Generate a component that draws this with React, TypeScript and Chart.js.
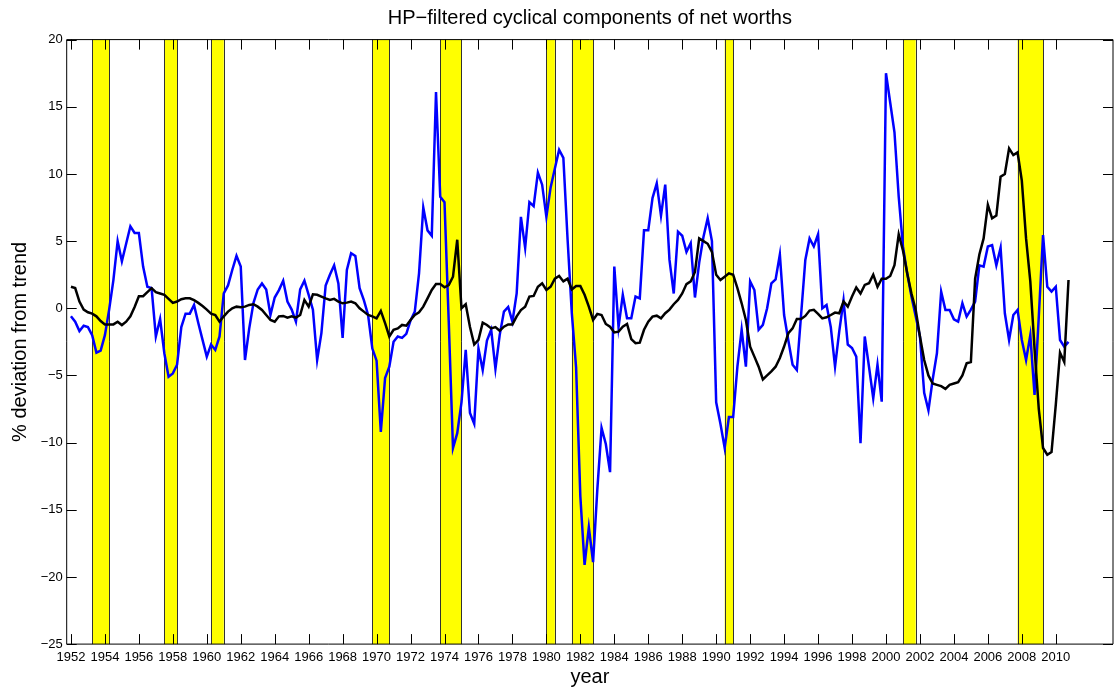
import React, { useEffect, useRef } from 'react';
import { Chart, registerables } from 'chart.js';

Chart.register(...registerables);

// quarterly observations, first quarter of 1952 through last quarter of 2010
const startYear = 1952;

const blueSeries = [
  -0.6, -1.0, -1.7, -1.3,
  -1.4, -2.0, -3.3, -3.15,
  -2.0, -0.1, 2.1, 5.0,
  3.5, 4.8, 6.1, 5.6,
  5.6, 3.1, 1.6, 1.5,
  -2.1, -0.8, -3.35, -5.1,
  -4.85, -4.2, -1.4, -0.4,
  -0.4, 0.25, -1.1, -2.35,
  -3.6, -2.7, -3.1, -2.1,
  1.1, 1.7, 2.85, 3.9,
  3.1, -3.85, -1.5, 0.4,
  1.4, 1.85, 1.4, -0.5,
  0.8, 1.35, 2.05, 0.5,
  -0.1, -1.0, 1.4, 2.05,
  1.0, -0.1, -3.85, -1.85,
  1.7, 2.5, 3.2, 1.85,
  -2.2, 2.85, 4.1, 3.9,
  1.5, 0.6, -0.5, -3.0,
  -3.9, -9.2, -5.2, -4.35,
  -2.5, -2.1, -2.2, -1.9,
  -0.9, -0.25, 2.6, 7.5,
  5.8, 5.4, 16.1, 8.3,
  7.9, -1.0, -10.4, -9.3,
  -7.0, -3.1, -7.8, -8.6,
  -3.0, -4.6, -2.4, -1.6,
  -4.5, -2.0, -0.25, 0.1,
  -1.0, 1.1, 6.8, 4.5,
  7.9, 7.6, 10.1, 9.2,
  6.8, 9.0, 10.4, 11.8,
  11.2, 5.1, -0.4, -4.4,
  -14.0, -19.1, -16.3, -18.9,
  -13.5, -8.9, -10.1, -12.2,
  3.1, -1.4, 1.0, -0.75,
  -0.75, 0.87, 0.74, 5.8,
  5.8, 8.2, 9.3, 6.9,
  9.2, 3.6, 1.1, 5.7,
  5.4, 4.2, 4.85, 0.8,
  3.4, 5.3, 6.7, 5.0,
  -7.0, -8.6, -10.4, -8.1,
  -8.1, -4.35, -1.6, -4.35,
  2.0, 1.36, -1.6, -1.24,
  0.0, 1.86, 2.15, 4.0,
  -0.5, -2.4, -4.2, -4.6,
  -0.5, 3.6, 5.2, 4.6,
  5.5, 0.0, 0.25, -1.4,
  -4.35, -1.7, 0.6, -2.7,
  -2.96, -3.6, -10.05, -2.1,
  -4.35, -6.7, -4.2, -6.95,
  17.5, 15.3, 13.1, 8.3,
  4.6, 2.6, 0.87, -0.6,
  -2.1, -6.3, -7.6, -5.3,
  -3.35, 1.24, -0.12, -0.12,
  -0.82, -1.0, 0.37, -0.62,
  -0.1, 0.5, 3.2, 3.1,
  4.6, 4.7, 3.2, 4.5,
  -0.37, -2.36, -0.5, -0.12,
  -2.36, -3.85, -2.0, -6.45,
  -0.6, 5.45, 1.6, 1.24,
  1.6, -2.36, -2.86, -2.5,
];

const blackSeries = [
  1.6, 1.5, 0.5, -0.1,
  -0.3, -0.4, -0.6, -0.95,
  -1.2, -1.2, -1.2, -1.0,
  -1.25, -1.0, -0.6, 0.1,
  0.9, 0.9, 1.2, 1.5,
  1.2, 1.1, 1.0, 0.7,
  0.4, 0.5, 0.67, 0.74,
  0.74, 0.6, 0.4, 0.17,
  -0.1, -0.4, -0.5, -1.0,
  -0.6, -0.25, 0.0, 0.12,
  0.07, 0.12, 0.25, 0.3,
  0.12, -0.13, -0.5, -0.87,
  -1.0, -0.6, -0.57, -0.7,
  -0.6, -0.7, -0.5, 0.62,
  0.12, 1.04, 1.0, 0.87,
  0.74, 0.62, 0.7, 0.5,
  0.37, 0.42, 0.5, 0.37,
  0.0, -0.25, -0.5, -0.6,
  -0.75, -0.2, -1.1, -2.1,
  -1.6, -1.5, -1.24, -1.3,
  -0.87, -0.5, -0.3, 0.12,
  0.74, 1.36, 1.8, 1.8,
  1.56, 1.73, 2.35, 5.1,
  0.0, 0.3, -1.4, -2.7,
  -2.36, -1.07, -1.24, -1.5,
  -1.4, -1.67, -1.37, -1.2,
  -1.2, -0.6, -0.13, 0.12,
  0.87, 0.92, 1.6, 1.86,
  1.36, 1.6, 2.2, 2.4,
  2.0, 2.2, 1.4, 1.66,
  1.66, 1.0, 0.12, -0.87,
  -0.42, -0.5, -1.17, -1.37,
  -1.8, -1.74, -1.37, -1.17,
  -2.3, -2.6, -2.56, -1.6,
  -1.0, -0.62, -0.55, -0.75,
  -0.37, -0.1, 0.3, 0.62,
  1.1, 1.8, 2.0, 2.7,
  5.2, 5.0, 4.8, 4.2,
  2.5, 2.1, 2.35, 2.6,
  2.5, 1.5, 0.37, -0.87,
  -2.86, -3.6, -4.35, -5.3,
  -5.0, -4.7, -4.35, -3.7,
  -2.85, -1.86, -1.5, -0.8,
  -0.8, -0.57, -0.17, -0.12,
  -0.42, -0.75, -0.67, -0.5,
  -0.32, -0.37, 0.5, 0.12,
  0.87, 1.55, 1.1, 1.74,
  1.86, 2.5, 1.6, 2.2,
  2.2, 2.4, 3.2, 5.5,
  4.3, 2.6, 1.1, -0.12,
  -2.1, -3.85, -5.0, -5.6,
  -5.7, -5.8, -6.0, -5.7,
  -5.6, -5.5, -5.0, -4.1,
  -4.0, 2.2, 4.0, 5.2,
  7.7, 6.7, 6.9, 9.8,
  10.0, 11.9, 11.4, 11.6,
  9.5, 5.2, 2.0, -3.0,
  -7.5, -10.4, -10.9, -10.7,
  -7.2, -3.3, -4.0, 2.1,
];

// recession periods (shaded)
const recessionStarts = [1953.25, 1957.5, 1960.25, 1969.75, 1973.75, 1980.0, 1981.5, 1990.5, 2001.0, 2007.75];
const recessionEnds = [1954.25, 1958.25, 1961.0, 1970.75, 1975.0, 1980.5, 1982.75, 1991.0, 2001.75, 2009.25];

const xTickYears = [
  1952, 1954, 1956, 1958, 1960, 1962, 1964, 1966, 1968, 1970, 1972, 1974, 1976, 1978, 1980,
  1982, 1984, 1986, 1988, 1990, 1992, 1994, 1996, 1998, 2000, 2002, 2004, 2006, 2008, 2010,
];
const yTickValues = [-25, -20, -15, -10, -5, 0, 5, 10, 15, 20];

const titleText = 'HP\u2212filtered cyclical components of net worths';
const xTitle = 'year';
const yTitle = '% deviation from trend';

const FONT = '"Liberation Sans", Arial, Helvetica, sans-serif';

const recessionPlugin = {
  id: 'recessions',
  beforeDatasetsDraw(chart: any) {
    const { ctx, chartArea, scales } = chart;
    const x = scales.x;
    ctx.save();
    for (let i = 0; i < recessionStarts.length; i++) {
      const x0 = x.getPixelForValue(recessionStarts[i]);
      const x1 = x.getPixelForValue(recessionEnds[i]);
      ctx.fillStyle = '#ffff00';
      ctx.fillRect(x0, chartArea.top, x1 - x0, chartArea.bottom - chartArea.top);
      ctx.strokeStyle = '#333333';
      ctx.lineWidth = 1;
      ctx.beginPath();
      ctx.moveTo(Math.round(x0) + 0.5, chartArea.top);
      ctx.lineTo(Math.round(x0) + 0.5, chartArea.bottom);
      ctx.moveTo(Math.round(x1) + 0.5, chartArea.top);
      ctx.lineTo(Math.round(x1) + 0.5, chartArea.bottom);
      ctx.stroke();
    }
    ctx.restore();
  },
};

const framePlugin = {
  id: 'frame',
  afterDatasetsDraw(chart: any) {
    const { ctx, chartArea, scales } = chart;
    const { left, right, top, bottom } = chartArea;
    const tl = 10;
    ctx.save();
    ctx.strokeStyle = '#000';
    ctx.lineWidth = 1;
    ctx.beginPath();
    ctx.rect(left, top, right - left, bottom - top);
    for (const v of xTickYears) {
      const px = Math.round(scales.x.getPixelForValue(v)) + 0.5;
      ctx.moveTo(px, bottom);
      ctx.lineTo(px, bottom - tl);
      ctx.moveTo(px, top);
      ctx.lineTo(px, top + tl);
    }
    for (const v of yTickValues) {
      const py = Math.round(scales.y.getPixelForValue(v)) + 0.5;
      ctx.moveTo(left, py);
      ctx.lineTo(left + tl, py);
      ctx.moveTo(right, py);
      ctx.lineTo(right - tl, py);
    }
    ctx.stroke();
    ctx.restore();
  },
  afterDraw(chart: any) {
    // title centred over the plotting area, as in the reference
    const { ctx, chartArea } = chart;
    ctx.save();
    ctx.fillStyle = '#000';
    ctx.font = `20px ${FONT}`;
    ctx.textAlign = 'center';
    ctx.textBaseline = 'middle';
    ctx.fillText(titleText, (chartArea.left + chartArea.right) / 2, 18);
    ctx.restore();
  },
};

export default function App() {
  const ref = useRef<HTMLCanvasElement>(null);

  useEffect(() => {
    document.body.style.margin = '0';
    const canvas = ref.current;
    if (!canvas) return;
    const quarterOf = (i: number) => startYear + i / 4;
    const chart = new Chart(canvas, {
      type: 'line',
      data: {
        datasets: [
          {
            label: 'black',
            data: blackSeries.map((y, i) => ({ x: quarterOf(i), y })),
            borderColor: '#000000',
            borderWidth: 2.5,
            pointRadius: 0,
            tension: 0,
            fill: false,
          },
          {
            label: 'blue',
            data: blueSeries.map((y, i) => ({ x: quarterOf(i), y })),
            borderColor: '#0000ff',
            borderWidth: 2.5,
            pointRadius: 0,
            tension: 0,
            fill: false,
          },
        ],
      },
      options: {
        responsive: false,
        animation: false,
        layout: { padding: { top: 39.6, right: 1, left: 0, bottom: 0 } },
        font: { family: FONT },
        plugins: {
          legend: { display: false },
          tooltip: { enabled: false },
          title: { display: false },
        },
        scales: {
          x: {
            type: 'linear',
            min: 1951.75,
            max: 2013.37,
            grid: { display: false, drawTicks: false },
            border: { display: false },
            afterBuildTicks: (s: any) => {
              s.ticks = xTickYears.map((v) => ({ value: v }));
            },
            afterFit: (s: any) => {
              s.height = 42.9;
            },
            ticks: {
              autoSkip: false,
              maxRotation: 0,
              minRotation: 0,
              padding: 6,
              color: '#000',
              font: { family: FONT, size: 13 },
              callback: (v: any) => String(v),
            },
            title: {
              display: true,
              text: xTitle,
              color: '#000',
              font: { family: FONT, size: 20, lineHeight: 1.0 },
              padding: { top: 0, bottom: 0 },
            },
          },
          y: {
            type: 'linear',
            min: -25,
            max: 20,
            grid: { display: false, drawTicks: false },
            border: { display: false },
            afterBuildTicks: (s: any) => {
              s.ticks = yTickValues.map((v) => ({ value: v }));
            },
            afterFit: (s: any) => {
              s.width = 66.7;
            },
            ticks: {
              padding: 4,
              color: '#000',
              font: { family: FONT, size: 13 },
              callback: (v: any) => (Number(v) < 0 ? '\u2212' + String(Math.abs(Number(v))) : String(v)),
            },
            title: {
              display: true,
              text: yTitle,
              color: '#000',
              font: { family: FONT, size: 20, lineHeight: 1.0 },
              padding: { top: 10, bottom: 0 },
            },
          },
        },
      },
      plugins: [recessionPlugin, framePlugin],
    } as any);
    return () => chart.destroy();
  }, []);

  return (
    <div style={{ position: 'absolute', left: 0, top: 0, width: 1114, height: 687, background: '#fff' }}>
      <canvas ref={ref} width={1114} height={687} style={{ display: 'block' }} />
    </div>
  );
}
